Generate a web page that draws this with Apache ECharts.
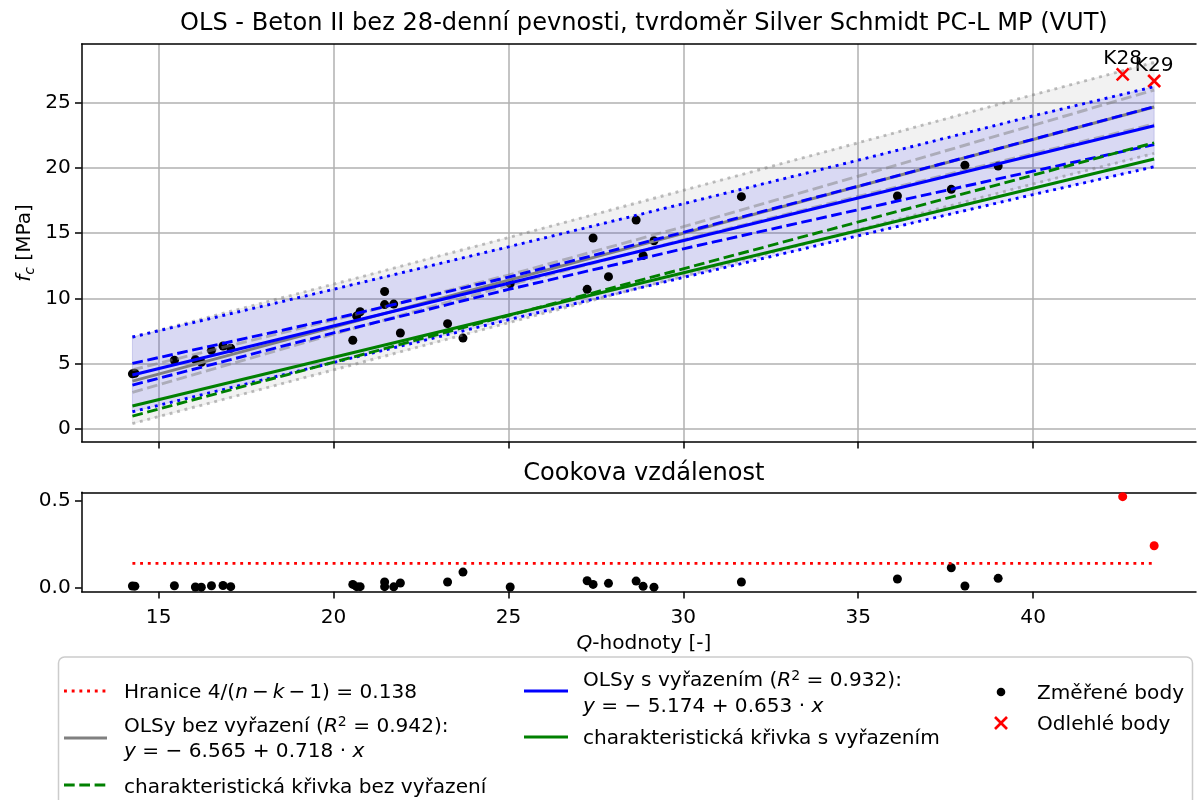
<!DOCTYPE html>
<html>
<head>
<meta charset="utf-8">
<script src="https://cdn.jsdelivr.net/npm/echarts@6/dist/echarts.min.js"></script>
<style>
  html, body { margin: 0; padding: 0; background: #ffffff; }
  #chart { width: 1197px; height: 800px; }
</style>
</head>
<body>
<div id="chart"></div>
<script>
// Measured specimens: rebound Q-value, compressive strength f_c [MPa], Cook's distance
const qMeasured   = [14.25, 14.32, 15.45, 16.05, 16.22, 16.51, 16.84, 17.06, 20.55, 20.66, 20.76, 21.46, 21.46, 21.72, 21.91,
                     23.26, 23.70, 25.05, 27.25, 27.42, 27.86, 28.65, 28.85, 29.16, 31.66, 36.12, 37.66, 38.05, 39.00];
const fcMeasured  = [4.22, 4.27, 5.26, 5.31, 5.10, 6.02, 6.35, 6.18, 6.79, 8.64, 8.97, 10.52, 9.52, 9.56, 7.35,
                     8.06, 6.96, 11.12, 10.69, 14.62, 11.66, 15.99, 13.27, 14.41, 17.78, 17.83, 18.34, 20.18, 20.12];
const cookMeasured = [0.008, 0.007, 0.009, 0.002, 0.001, 0.009, 0.011, 0.004, 0.017, 0.004, 0.004, 0.031, 0.004, 0.003, 0.025,
                      0.031, 0.088, 0.002, 0.038, 0.017, 0.023, 0.036, 0.006, 0.001, 0.031, 0.048, 0.113, 0.008, 0.052];

// Outlying specimens excluded from the second fit
const outlierNames = ['K28', 'K29'];
const qOutlier     = [42.56, 43.46];
const fcOutlier    = [27.14, 26.63];
const cookOutlier  = [0.523, 0.240];

// Regression coefficients
const interceptAll = -6.565, slopeAll = 0.718, r2All = 0.942;
const interceptExcl = -5.174, slopeExcl = 0.653, r2Excl = 0.932;
const cookLimit = 0.138;

// Confidence (dashed) and prediction (dotted) bands sampled along Q
const bandQ         = [14.25, 20, 25, 30, 35, 40, 43.46];
const confAllUpper  = [4.53, 8.34, 11.78, 15.48, 19.34, 23.24, 25.94];
const confAllLower  = [2.81, 7.26, 11.00, 14.48, 17.80, 21.08, 23.34];
const predAllUpper  = [7.02, 11.08, 14.65, 18.26, 21.90, 25.57, 28.05];
const predAllLower  = [0.41, 4.52, 8.13, 11.70, 15.24, 18.75, 21.09];
const confExclUpper = [5.02, 8.43, 11.62, 15.05, 18.58, 22.17, 24.66];
const confExclLower = [3.36, 7.35, 10.68, 13.79, 16.78, 19.73, 21.76];
const predExclUpper = [7.04, 10.69, 13.94, 17.24, 20.57, 23.96, 26.19];
const predExclLower = [1.32, 5.09, 8.36, 11.60, 14.79, 17.94, 20.07];

// Characteristic curves
const charQ    = [14.25, 43.46];
const charAll  = [0.99, 21.90];
const charExcl = [1.76, 20.66];

// Axis ticks
const xTicks    = [15, 20, 25, 30, 35, 40];
const yTicksTop = [0, 5, 10, 15, 20, 25];
const yTicksCook = [0, 0.5];

// ---------------------------------------------------------------------------
const FONT = 'DejaVu Sans';
const FS = 20.1;
const FS_TITLE = 24.1;
const LW = 2.9;
const DOT = [2.9, 4.8];
const DASH = [10.7, 4.6];
const GREY = '#808080';
const GREY_LIGHT = 'rgba(128,128,128,0.5)';

const zip = (xs, ys) => xs.map((x, i) => [x, ys[i]]);
const allQ = qMeasured.concat(qOutlier);
const qMin = Math.min(...allQ), qMax = Math.max(...allQ);
const fitLine = (b0, b1) => [[qMin, b0 + b1 * qMin], [qMax, b0 + b1 * qMax]];

// plot area runs past the right edge of the canvas
const GRID_LEFT = 81.7, GRID_W = 1114.3;
const X_MIN = 12.8, X_MAX = 44.656;
const AXES_CENTER = 643.9;

function lineSeries(name, data, color, dash) {
  return {
    name, type: 'line', xAxisIndex: 0, yAxisIndex: 0, data,
    symbol: 'none', showSymbol: false, silent: true,
    lineStyle: { color, width: LW, type: dash || 'solid', cap: 'butt' }
  };
}

function bandSeries(upper, lower, color) {
  return {
    type: 'custom', xAxisIndex: 0, yAxisIndex: 0, silent: true,
    data: [[bandQ[0], upper[0]]],
    renderItem: (params, api) => {
      const top = bandQ.map((q, i) => api.coord([q, upper[i]]));
      const bottom = bandQ.map((q, i) => api.coord([q, lower[i]])).reverse();
      return { type: 'polygon', shape: { points: top.concat(bottom) },
               style: { fill: color, stroke: color, lineWidth: 1 } };
    }
  };
}

const SPINE = { show: true, onZero: false, lineStyle: { color: '#000', width: 1.5 } };

function xAxisCfg(gridIndex, labels) {
  return {
    type: 'value', gridIndex, min: X_MIN, max: X_MAX, position: 'bottom',
    axisLine: SPINE,
    axisTick: { show: true, customValues: xTicks, length: 6.7, lineStyle: { color: '#000', width: 1.5 } },
    axisLabel: { show: labels, customValues: xTicks, margin: 16, color: '#000',
                 fontFamily: FONT, fontSize: FS, formatter: v => String(v) },
    splitLine: { show: gridIndex === 0, lineStyle: { color: '#b0b0b0', width: 1.5 } }
  };
}
// top spine only
function topSpine(gridIndex) {
  return {
    type: 'value', gridIndex, min: X_MIN, max: X_MAX, position: 'top',
    axisLine: SPINE, axisTick: { show: false }, axisLabel: { show: false }, splitLine: { show: false }
  };
}

function yAxisCfg(gridIndex, min, max, ticks, fmt, grid) {
  return {
    type: 'value', gridIndex, min, max,
    axisLine: SPINE,
    axisTick: { show: true, customValues: ticks, length: 6.7, lineStyle: { color: '#000', width: 1.5 } },
    axisLabel: { show: true, customValues: ticks, margin: 11, color: '#000',
                 fontFamily: FONT, fontSize: FS, formatter: fmt },
    splitLine: { show: grid, lineStyle: { color: '#b0b0b0', width: 1.5 } }
  };
}

// ---- legend (three columns) ----
const rich = {
  t:   { fontFamily: FONT, fontSize: FS, color: '#000', lineHeight: 24 },
  i:   { fontFamily: FONT, fontSize: FS, fontStyle: 'italic', color: '#000', lineHeight: 24 },
  sup: { fontFamily: FONT, fontSize: 14, color: '#000', lineHeight: 14, verticalAlign: 'top' },
  sub: { fontFamily: FONT, fontSize: 14, fontStyle: 'italic', color: '#000', lineHeight: 14, verticalAlign: 'bottom' }
};
const MINUS = '\u2212';
const TS = '\u2009';   // thin space around binary operators
function txt(x, y, text) {
  return { type: 'text', silent: true, x, y: y + 2,
    style: { text, rich, x: 0, y: 0, fill: '#000', fontFamily: FONT, fontSize: FS,
             align: 'left', verticalAlign: 'middle' } };
}
function handle(x1, x2, y, color, dash) {
  return { type: 'line', silent: true,
    shape: { x1, y1: y, x2, y2: y },
    style: { stroke: color, lineWidth: LW, lineDash: dash || null, lineCap: 'butt' } };
}
const eqText = (b0, b1) =>
  `{i|y}{t| = ${b0 < 0 ? MINUS + ' ' : ''}${Math.abs(b0).toFixed(3)} + ${b1.toFixed(3)} · }{i|x}`;

const legendGraphic = [
  { type: 'rect', silent: true, shape: { x: 58.5, y: 657, width: 1134, height: 170, r: 6 },
    style: { fill: 'rgba(255,255,255,0.8)', stroke: '#cccccc', lineWidth: 1.5 } },
  handle(64, 107, 691, '#ff0000', DOT),
  txt(124, 691, `{t|Hranice 4/(}{i|n}{t|${TS}${MINUS}${TS}}{i|k}{t|${TS}${MINUS}${TS}1) = ${cookLimit.toFixed(3)}}`),
  handle(64, 107, 738, GREY),
  txt(124, 725, `{t|OLSy bez vyřazení (}{i|R}{sup|2}{t| = ${r2All.toFixed(3)}):}`),
  txt(124, 750, eqText(interceptAll, slopeAll)),
  handle(64, 107, 785, '#008000', DASH),
  txt(124, 786, '{t|charakteristická křivka bez vyřazení}'),

  handle(524, 568, 691, '#0000ff'),
  txt(583, 679, `{t|OLSy s vyřazením (}{i|R}{sup|2}{t| = ${r2Excl.toFixed(3)}):}`),
  txt(583, 705, eqText(interceptExcl, slopeExcl)),
  handle(524, 568, 737, '#008000'),
  txt(583, 737, '{t|charakteristická křivka s vyřazením}'),

  { type: 'circle', silent: true, shape: { cx: 1001, cy: 692, r: 4.3 }, style: { fill: '#000' } },
  txt(1037, 692, '{t|Změřené body}'),
  { type: 'line', silent: true, shape: { x1: 995, y1: 717, x2: 1007, y2: 729 }, style: { stroke: '#ff0000', lineWidth: 2.6 } },
  { type: 'line', silent: true, shape: { x1: 995, y1: 729, x2: 1007, y2: 717 }, style: { stroke: '#ff0000', lineWidth: 2.6 } },
  txt(1037, 723, '{t|Odlehlé body}')
];

const titleGraphic = [
  { type: 'text', silent: true, x: AXES_CENTER, y: 24,
    style: { text: 'OLS - Beton II bez 28-denní pevnosti, tvrdoměr Silver Schmidt PC-L MP (VUT)',
             fill: '#000', fontFamily: FONT, fontSize: FS_TITLE, align: 'center', verticalAlign: 'middle' } },
  { type: 'text', silent: true, x: AXES_CENTER, y: 474,
    style: { text: 'Cookova vzdálenost', fill: '#000', fontFamily: FONT, fontSize: FS_TITLE,
             align: 'center', verticalAlign: 'middle' } },
  { type: 'text', silent: true, x: AXES_CENTER, y: 644,
    style: { text: '{i|Q}{t|-hodnoty [-]}', rich, fill: '#000', fontFamily: FONT, fontSize: FS,
             align: 'center', verticalAlign: 'middle' } },
  { type: 'text', silent: true, x: 25, y: 243, rotation: Math.PI / 2,
    style: { text: '{i|f}{sub|c}{t| [MPa]}', rich, fill: '#000', fontFamily: FONT, fontSize: FS,
             align: 'center', verticalAlign: 'middle' } }
];

const option = {
  animation: false,
  backgroundColor: '#ffffff',
  grid: [
    { left: GRID_LEFT, top: 44, width: GRID_W, height: 397.7 },
    { left: GRID_LEFT, top: 492.3, width: GRID_W, height: 99.4 }
  ],
  xAxis: [xAxisCfg(0, false), xAxisCfg(1, true), topSpine(0), topSpine(1)],
  yAxis: [
    yAxisCfg(0, -0.97, 29.46, yTicksTop, v => String(v), true),
    yAxisCfg(1, -0.025, 0.548, yTicksCook, v => v.toFixed(1), false)
  ],
  graphic: titleGraphic.concat(legendGraphic),
  series: [
    // prediction bands (filled)
    bandSeries(predAllUpper, predAllLower, 'rgba(128,128,128,0.1)'),
    bandSeries(predExclUpper, predExclLower, 'rgba(0,0,255,0.1)'),
    // fit on all specimens
    lineSeries('predAllUpper', zip(bandQ, predAllUpper), GREY_LIGHT, DOT),
    lineSeries('predAllLower', zip(bandQ, predAllLower), GREY_LIGHT, DOT),
    lineSeries('confAllUpper', zip(bandQ, confAllUpper), GREY_LIGHT, DASH),
    lineSeries('confAllLower', zip(bandQ, confAllLower), GREY_LIGHT, DASH),
    lineSeries('OLSy bez vyřazení', fitLine(interceptAll, slopeAll), GREY),
    // fit without outliers
    lineSeries('predExclUpper', zip(bandQ, predExclUpper), '#0000ff', DOT),
    lineSeries('predExclLower', zip(bandQ, predExclLower), '#0000ff', DOT),
    lineSeries('confExclUpper', zip(bandQ, confExclUpper), '#0000ff', DASH),
    lineSeries('confExclLower', zip(bandQ, confExclLower), '#0000ff', DASH),
    lineSeries('OLSy s vyřazením', fitLine(interceptExcl, slopeExcl), '#0000ff'),
    // characteristic curves
    lineSeries('charakteristická křivka bez vyřazení', zip(charQ, charAll), '#008000', DASH),
    lineSeries('charakteristická křivka s vyřazením', zip(charQ, charExcl), '#008000'),
    // measured points
    { name: 'Změřené body', type: 'scatter', xAxisIndex: 0, yAxisIndex: 0, silent: true,
      data: zip(qMeasured, fcMeasured), symbol: 'circle', symbolSize: 9,
      itemStyle: { color: '#000', opacity: 1 } },
    { name: 'Odlehlé body', type: 'scatter', xAxisIndex: 0, yAxisIndex: 0, silent: true,
      data: zip(qOutlier, fcOutlier), symbol: 'path://M0 0L10 10M10 0L0 10', symbolSize: 12,
      itemStyle: { color: '#ff0000', borderColor: '#ff0000', borderWidth: 2.6, opacity: 1 },
      label: { show: true, position: 'inside', offset: [0, -15.5], color: '#000',
               fontFamily: FONT, fontSize: FS, formatter: p => outlierNames[p.dataIndex] } },
    // Cook's distance
    { name: 'Hranice', type: 'line', xAxisIndex: 1, yAxisIndex: 1, silent: true,
      data: [[qMin, cookLimit], [qMax, cookLimit]], symbol: 'none',
      lineStyle: { color: '#ff0000', width: LW, type: DOT, cap: 'butt' } },
    { type: 'scatter', xAxisIndex: 1, yAxisIndex: 1, silent: true,
      data: zip(qMeasured, cookMeasured), symbolSize: 9, itemStyle: { color: '#000', opacity: 1 } },
    { type: 'scatter', xAxisIndex: 1, yAxisIndex: 1, silent: true,
      data: zip(qOutlier, cookOutlier), symbolSize: 9, itemStyle: { color: '#ff0000', opacity: 1 } }
  ]
};

const chart = echarts.init(document.getElementById('chart'), null, { renderer: 'canvas' });
chart.setOption(option);
</script>
</body>
</html>
